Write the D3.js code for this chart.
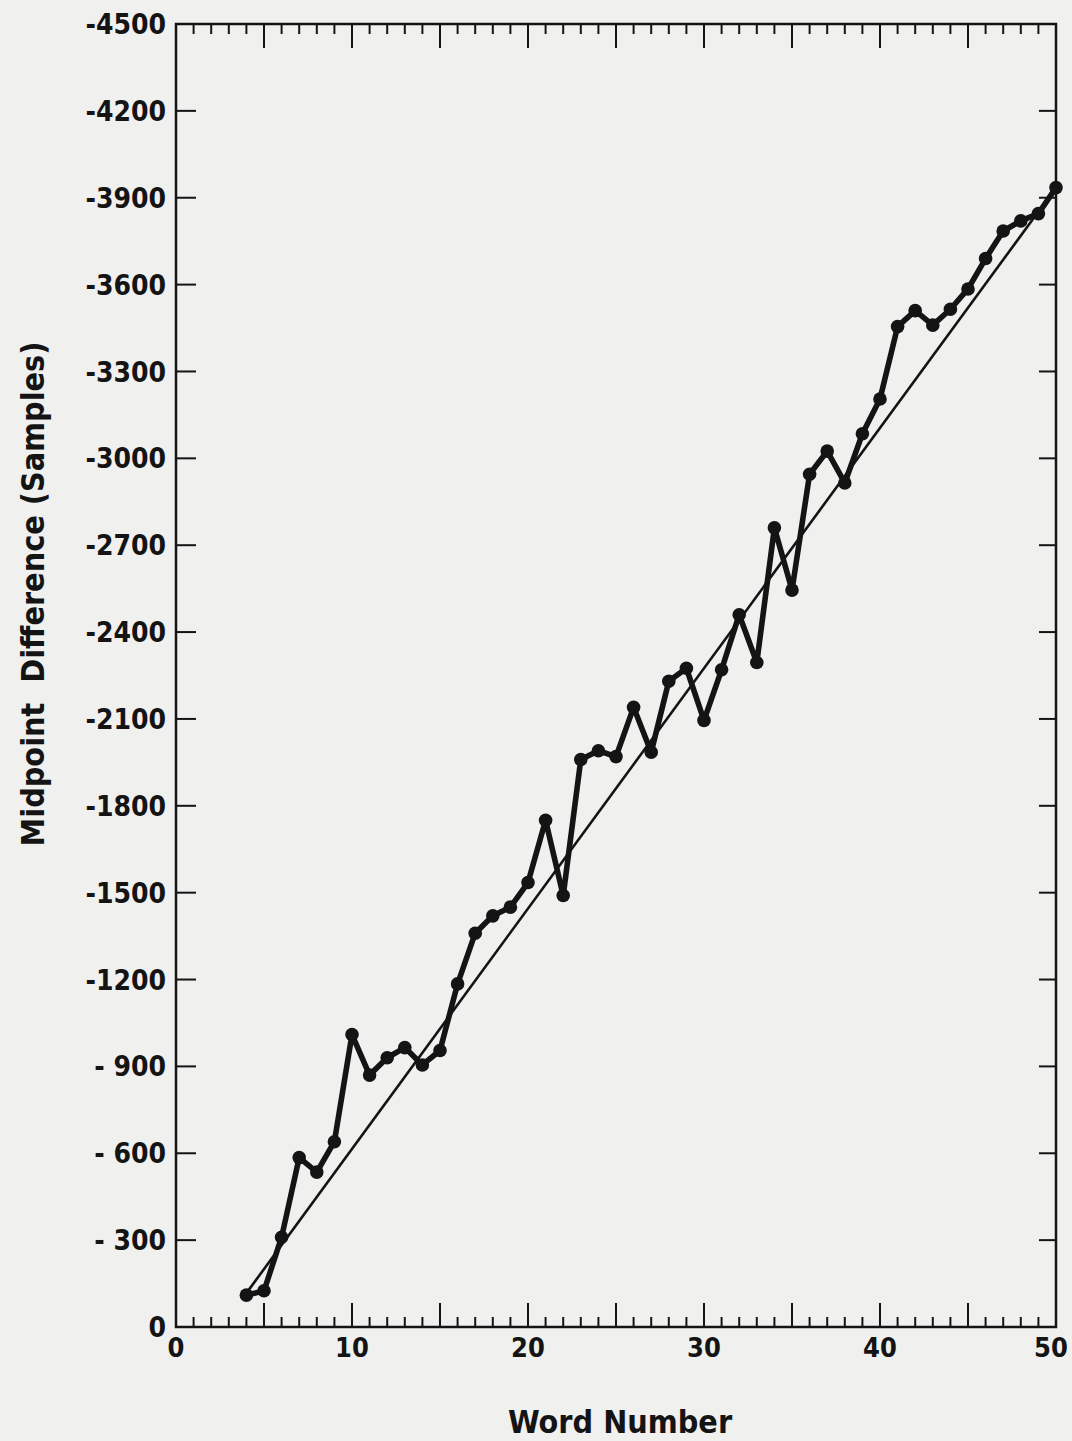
<!DOCTYPE html>
<html>
<head>
<meta charset="utf-8">
<script src="https://cdn.jsdelivr.net/npm/d3@7"></script>
<style>
  html, body { margin: 0; padding: 0; background: #f0f0ef; }
  svg { display: block; }
  .lbl { font-family: "DejaVu Sans Condensed", "DejaVu Sans", sans-serif; font-weight: bold; fill: #141414; }
</style>
</head>
<body>
<svg id="chart" width="1072" height="1441"></svg>
<script>
// Word number of each measured word
const wordNumbers = [4, 5, 6, 7, 8, 9, 10, 11, 12, 13, 14, 15, 16, 17, 18, 19, 20,
  21, 22, 23, 24, 25, 26, 27, 28, 29, 30, 31, 32, 33, 34, 35, 36, 37, 38, 39, 40,
  41, 42, 43, 44, 45, 46, 47, 48, 49, 50];

// Midpoint difference (samples) for each word
const midpointDiff = [-110, -125, -310, -585, -535, -640, -1010, -870, -930, -965,
  -905, -955, -1185, -1360, -1420, -1450, -1535, -1750, -1490, -1960,
  -1990, -1970, -2140, -1985, -2230, -2275, -2095, -2270, -2460, -2295,
  -2760, -2545, -2945, -3025, -2915, -3085, -3205, -3455, -3510, -3460,
  -3515, -3585, -3690, -3785, -3820, -3845, -3935];

// Straight-line fit through the measurements (end points)
const fitWords = [4, 50];
const fitValues = [-117, -3935];

// Axis tick values and labels
const xLabelTicks = [0, 10, 20, 30, 40, 50];
const yTicks = [0, -300, -600, -900, -1200, -1500, -1800, -2100, -2400, -2700,
  -3000, -3300, -3600, -3900, -4200, -4500];
const yTickLabels = ["0", "- 300", "- 600", "- 900", "-1200", "-1500", "-1800", "-2100",
  "-2400", "-2700", "-3000", "-3300", "-3600", "-3900", "-4200", "-4500"];

const ink = "#141414";
const margin = { left: 176, top: 24, right: 16, bottom: 114 };
const W = 1072, H = 1441;
const iw = W - margin.left - margin.right;   // 880
const ih = H - margin.top - margin.bottom;   // 1303

const svg = d3.select("#chart");
svg.append("rect").attr("width", W).attr("height", H).attr("fill", "#f0f0ef");

const g = svg.append("g").attr("transform", `translate(${margin.left},${margin.top})`);

const x = d3.scaleLinear().domain([0, 50]).range([0, iw]);
const y = d3.scaleLinear().domain([0, -4500]).range([ih, 0]);

// Unit ticks along top and bottom, longer every five words
const unitTicks = d3.range(0, 51);
function hAxis(sel, orient) {
  sel.selectAll("line.t").data(unitTicks).join("line")
    .attr("class", "t")
    .attr("x1", d => x(d)).attr("x2", d => x(d))
    .attr("y1", 0)
    .attr("y2", d => (d % 5 === 0 ? 24 : 10) * orient)
    .attr("stroke", ink).attr("stroke-width", 2);
}
g.append("g").attr("transform", `translate(0,${ih})`).call(hAxis, -1);
g.append("g").call(hAxis, 1);

// Inward ticks on left and right edges
g.append("g").selectAll("line").data(yTicks).join("line")
  .attr("x1", 0).attr("x2", 20)
  .attr("y1", d => y(d)).attr("y2", d => y(d))
  .attr("stroke", ink).attr("stroke-width", 2);
g.append("g").selectAll("line").data(yTicks).join("line")
  .attr("x1", iw).attr("x2", iw - 17)
  .attr("y1", d => y(d)).attr("y2", d => y(d))
  .attr("stroke", ink).attr("stroke-width", 2);

// Frame
g.append("rect").attr("x", 0).attr("y", 0).attr("width", iw).attr("height", ih)
  .attr("fill", "none").attr("stroke", ink).attr("stroke-width", 2.5);

// Tick labels
g.append("g").selectAll("text").data(yTicks).join("text")
  .attr("class", "lbl")
  .attr("x", -10).attr("y", (d, i) => y(d))
  .attr("dy", "0.36em")
  .attr("text-anchor", "end")
  .attr("font-size", 28)
  .text((d, i) => yTickLabels[i]);

g.append("g").selectAll("text").data(xLabelTicks).join("text")
  .attr("class", "lbl")
  .attr("x", d => Math.min(x(d), iw - 5)).attr("y", ih + 20)
  .attr("dy", "0.36em")
  .attr("text-anchor", "middle")
  .attr("font-size", 27)
  .text(d => d);

// Axis titles
svg.append("text").attr("class", "lbl")
  .attr("x", 620).attr("y", 1433)
  .attr("text-anchor", "middle")
  .attr("font-size", 32)
  .text("Word Number");

svg.append("text").attr("class", "lbl")
  .attr("transform", "translate(44,594) rotate(-90)")
  .attr("text-anchor", "middle")
  .attr("font-size", 32)
  .attr("xml:space", "preserve")
  .style("white-space", "pre")
  .text("Midpoint  Difference (Samples)");

// Fitted straight line
g.append("line")
  .attr("x1", x(fitWords[0])).attr("y1", y(fitValues[0]))
  .attr("x2", x(fitWords[1])).attr("y2", y(fitValues[1]))
  .attr("stroke", ink).attr("stroke-width", 2.6);

// Measured midpoint differences
const pts = wordNumbers.map((w, i) => [w, midpointDiff[i]]);
g.append("path").datum(pts)
  .attr("d", d3.line().x(d => x(d[0])).y(d => y(d[1])))
  .attr("fill", "none").attr("stroke", ink)
  .attr("stroke-width", 5.6).attr("stroke-linejoin", "round");
g.append("g").selectAll("circle").data(pts).join("circle")
  .attr("cx", d => x(d[0])).attr("cy", d => y(d[1]))
  .attr("r", 6.8).attr("fill", ink);
</script>
</body>
</html>
